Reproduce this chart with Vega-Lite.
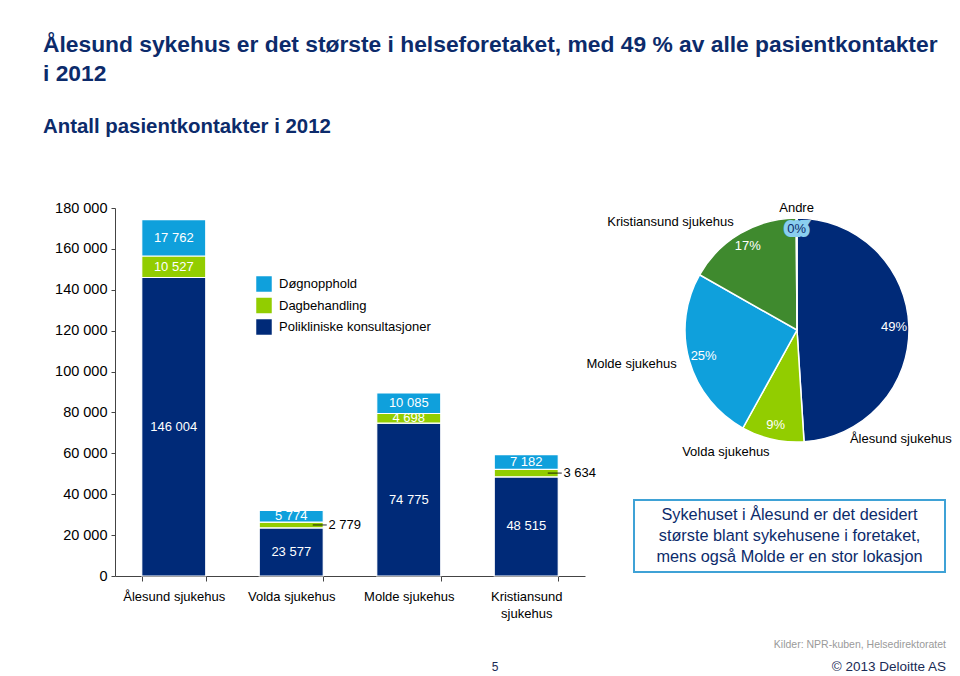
{
  "$schema": "https://vega.github.io/schema/vega-lite/v6.json",
  "padding": {"left": 43, "top": 33, "right": 0, "bottom": 0},
  "bounds": "flush",
  "spacing": 49,
  "resolve": {"scale": {"color": "independent"}, "legend": {"color": "independent"}},
  "title": {
    "text": ["Ålesund sykehus er det største i helseforetaket, med 49 % av alle pasientkontakter", "i 2012"],
    "subtitle": "Antall pasientkontakter i 2012",
    "anchor": "start",
    "frame": "group",
    "dx": -72,
    "offset": 63,
    "font": "Liberation Sans",
    "fontSize": 22.8,
    "fontWeight": "bold",
    "color": "#0C2B6B",
    "lineHeight": 29,
    "subtitleFont": "Liberation Sans",
    "subtitleFontSize": 20.4,
    "subtitleFontWeight": "bold",
    "subtitleColor": "#0C2B6B",
    "subtitlePadding": 31
  },
  "config": {
    "font": "Liberation Sans",
    "view": {"stroke": null},
    "locale": {"number": {"decimal": ",", "thousands": " ", "grouping": [3], "currency": ["", " kr"]}},
    "axis": {"labelFont": "Liberation Sans", "labelFontSize": 13, "labelColor": "#000", "domainColor": "#444", "tickColor": "#444", "grid": false, "title": null}
  },
  "hconcat": [
    {
      "width": 470,
      "height": 368,
      "data": {"values": [
        {"hospital": "Ålesund sjukehus", "category": "Polikliniske konsultasjoner", "value": 146004},
        {"hospital": "Ålesund sjukehus", "category": "Dagbehandling", "value": 10527},
        {"hospital": "Ålesund sjukehus", "category": "Døgnopphold", "value": 17762},
        {"hospital": "Volda sjukehus", "category": "Polikliniske konsultasjoner", "value": 23577},
        {"hospital": "Volda sjukehus", "category": "Dagbehandling", "value": 2779},
        {"hospital": "Volda sjukehus", "category": "Døgnopphold", "value": 5774},
        {"hospital": "Molde sjukehus", "category": "Polikliniske konsultasjoner", "value": 74775},
        {"hospital": "Molde sjukehus", "category": "Dagbehandling", "value": 4698},
        {"hospital": "Molde sjukehus", "category": "Døgnopphold", "value": 10085},
        {"hospital": "Kristiansund sjukehus", "category": "Polikliniske konsultasjoner", "value": 48515},
        {"hospital": "Kristiansund sjukehus", "category": "Dagbehandling", "value": 3634},
        {"hospital": "Kristiansund sjukehus", "category": "Døgnopphold", "value": 7182}
      ]},
      "transform": [
        {"calculate": "indexof(['Polikliniske konsultasjoner','Dagbehandling','Døgnopphold'], datum.category)", "as": "stackOrder"},
        {"stack": "value", "groupby": ["hospital"], "sort": [{"field": "stackOrder", "order": "ascending"}], "as": ["v0", "v1"]},
        {"calculate": "(datum.v0 + datum.v1) / 2", "as": "vmid"}
      ],
      "layer": [
        {
          "mark": {"type": "bar", "stroke": "white", "strokeWidth": 1.2},
          "encoding": {
            "x": {"field": "hospital", "type": "nominal", "sort": ["Ålesund sjukehus", "Volda sjukehus", "Molde sjukehus", "Kristiansund sjukehus"], "scale": {"paddingInner": 0.455, "paddingOuter": 0.2275},
              "axis": {"labelAngle": 0, "tickBand": "extent", "tickSize": 5, "labelPadding": 9, "labelLineHeight": 17, "labelLimit": 0, "labelExpr": "datum.label == 'Kristiansund sjukehus' ? ['Kristiansund', 'sjukehus'] : datum.label"}},
            "y": {"field": "v1", "type": "quantitative", "scale": {"domain": [0, 180000], "nice": false},
              "axis": {"values": [0, 10000, 20000, 30000, 40000, 50000, 60000, 70000, 80000, 90000, 100000, 110000, 120000, 130000, 140000, 150000, 160000, 170000, 180000], "format": ",d", "tickSize": 4, "labelPadding": 4, "labelFontSize": 14.5}},
            "y2": {"field": "v0"},
            "color": {"field": "category", "type": "nominal",
              "scale": {"domain": ["Døgnopphold", "Dagbehandling", "Polikliniske konsultasjoner"], "range": ["#0FA0DC", "#92CD00", "#002A78"]},
              "legend": {"orient": "none", "legendX": 141, "legendY": 68, "title": null, "symbolType": "square", "symbolSize": 240, "symbolStrokeWidth": 0, "labelFontSize": 13, "labelColor": "#000", "rowPadding": 5.5, "labelOffset": 7, "labelLimit": 0}}
          }
        },
        {
          "transform": [{"filter": "datum.value >= 4000"}],
          "mark": {"type": "text", "color": "white", "fontSize": 13},
          "encoding": {
            "x": {"field": "hospital", "type": "nominal", "sort": ["Ålesund sjukehus", "Volda sjukehus", "Molde sjukehus", "Kristiansund sjukehus"]},
            "y": {"field": "vmid", "type": "quantitative"},
            "text": {"field": "value", "type": "quantitative", "format": ",d"}
          }
        },
        {
          "transform": [{"filter": "datum.value < 4000"}],
          "mark": {"type": "tick", "orient": "horizontal", "color": "#000", "thickness": 1.2, "size": 14, "xOffset": 28.5},
          "encoding": {
            "x": {"field": "hospital", "type": "nominal", "sort": ["Ålesund sjukehus", "Volda sjukehus", "Molde sjukehus", "Kristiansund sjukehus"]},
            "y": {"field": "vmid", "type": "quantitative"}
          }
        },
        {
          "transform": [{"filter": "datum.value < 4000"}],
          "mark": {"type": "text", "color": "#000", "fontSize": 13, "align": "left"},
          "encoding": {
            "x": {"field": "hospital", "type": "nominal", "sort": ["Ålesund sjukehus", "Volda sjukehus", "Molde sjukehus", "Kristiansund sjukehus"], "bandPosition": 1.08},
            "y": {"field": "vmid", "type": "quantitative"},
            "text": {"field": "value", "type": "quantitative", "format": ",d"}
          }
        }
      ]
    },
    {
      "bounds": "flush",
      "spacing": 48,
      "vconcat": [
        {
          "width": 326,
          "height": 244,
          "data": {"values": [
            {"name": "Ålesund sjukehus", "value": 174293},
            {"name": "Volda sjukehus", "value": 32130},
            {"name": "Molde sjukehus", "value": 89558},
            {"name": "Kristiansund sjukehus", "value": 59331},
            {"name": "Andre", "value": 400}
          ]},
          "transform": [
            {"calculate": "indexof(['Ålesund sjukehus','Volda sjukehus','Molde sjukehus','Kristiansund sjukehus','Andre'], datum.name)", "as": "ord"},
            {"stack": "value", "groupby": [], "sort": [{"field": "ord", "order": "ascending"}], "as": ["a0", "a1"]},
            {"joinaggregate": [{"op": "sum", "field": "value", "as": "total"}]},
            {"calculate": "datum.value / datum.total", "as": "share"},
            {"calculate": "(datum.a0 + datum.a1) / 2", "as": "amid"}
          ],
          "layer": [
            {
              "mark": {"type": "arc", "outerRadius": 112, "stroke": "white", "strokeWidth": 1.5},
              "encoding": {
                "theta": {"field": "a1", "type": "quantitative"},
                "theta2": {"field": "a0"},
                "color": {"field": "name", "type": "nominal",
                  "scale": {"domain": ["Ålesund sjukehus", "Volda sjukehus", "Molde sjukehus", "Kristiansund sjukehus", "Andre"], "range": ["#002A78", "#92CD00", "#0FA0DC", "#3F8A2E", "#8ACFEF"]},
                  "legend": null}
              }
            },
            {
              "transform": [{"filter": "datum.name != 'Andre'"}],
              "mark": {"type": "text", "radius": 97, "color": "white", "fontSize": 13},
              "encoding": {
                "theta": {"field": "amid", "type": "quantitative"},
                "text": {"field": "share", "type": "quantitative", "format": ".0%"}
              }
            },
            {
              "transform": [{"filter": "datum.name == 'Andre'"}],
              "mark": {"type": "text", "radius": 101, "color": "#8ACFEF", "fontSize": 13, "stroke": "#8ACFEF", "strokeWidth": 8, "strokeJoin": "miter"},
              "encoding": {
                "theta": {"field": "amid", "type": "quantitative"},
                "text": {"field": "share", "type": "quantitative", "format": ".0%"}
              }
            },
            {
              "transform": [{"filter": "datum.name == 'Andre'"}],
              "mark": {"type": "text", "radius": 101, "color": "#0C2B6B", "fontSize": 13},
              "encoding": {
                "theta": {"field": "amid", "type": "quantitative"},
                "text": {"field": "share", "type": "quantitative", "format": ".0%"}
              }
            },
            {
              "transform": [{"filter": "datum.name == 'Andre'"}],
              "mark": {"type": "text", "radius": 122, "color": "#000", "fontSize": 13, "align": "center"},
              "encoding": {
                "theta": {"field": "amid", "type": "quantitative"},
                "text": {"field": "name", "type": "nominal"}
              }
            },
            {
              "transform": [{"filter": "datum.name == 'Kristiansund sjukehus' || datum.name == 'Molde sjukehus' || datum.name == 'Volda sjukehus'"}],
              "mark": {"type": "text", "radius": 125, "color": "#000", "fontSize": 13, "align": "right"},
              "encoding": {
                "theta": {"field": "amid", "type": "quantitative"},
                "text": {"field": "name", "type": "nominal"}
              }
            },
            {
              "transform": [{"filter": "datum.name == 'Ålesund sjukehus'"}],
              "mark": {"type": "text", "radius": 125, "color": "#000", "fontSize": 13, "align": "left", "dx": -72, "dy": 113},
              "encoding": {
                "theta": {"field": "amid", "type": "quantitative"},
                "text": {"field": "name", "type": "nominal"}
              }
            }
          ]
        },
        {
          "width": 311,
          "height": 72,
          "view": {"stroke": "#3FA2D6", "strokeWidth": 2},
          "data": {"values": [{}]},
          "mark": {"type": "text", "text": ["Sykehuset i Ålesund er det desidert", "største blant sykehusene i foretaket,", "mens også Molde er en stor lokasjon"], "fontSize": 16.3, "lineHeight": 21, "dy": -21, "color": "#0C2B6B", "align": "center", "baseline": "middle"}
        },
        {
          "width": 326,
          "height": 56,
          "data": {"values": [{}]},
          "layer": [
            {"mark": {"type": "text", "text": "Kilder: NPR-kuben, Helsedirektoratet", "x": "width", "dx": -14, "y": 25, "align": "right", "baseline": "middle", "fontSize": 10.5, "color": "#9A9A9A"}},
            {"mark": {"type": "text", "text": "© 2013 Deloitte AS", "x": "width", "dx": -14, "y": 47, "align": "right", "baseline": "middle", "fontSize": 13.5, "color": "#1A2A55"}},
            {"mark": {"type": "text", "text": "5", "x": 0, "dx": -139, "y": 47, "align": "center", "baseline": "middle", "fontSize": 12, "color": "#1A2A55"}}
          ]
        }
      ]
    }
  ]
}
